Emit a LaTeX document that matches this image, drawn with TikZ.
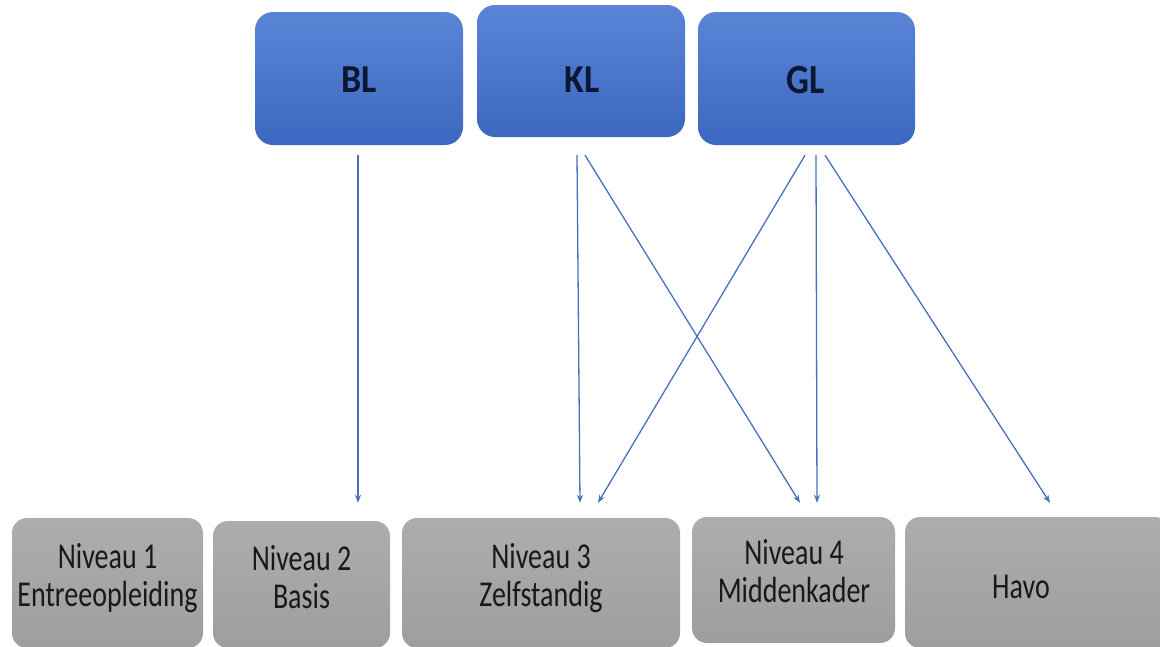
\documentclass[tikz,border=0pt]{standalone}
\usepackage{fontspec}
\setmainfont{Carlito}
\usepackage{graphicx}
\usetikzlibrary{arrows.meta}
\definecolor{bluetop}{HTML}{5A84D6}
\definecolor{bluebot}{HTML}{3C68C1}
\definecolor{greytop}{HTML}{ADADAD}
\definecolor{greybot}{HTML}{9E9E9E}
\definecolor{arrowblue}{HTML}{4A70BD}
\definecolor{navytext}{HTML}{0C1733}
\tikzset{
  topbox/.style={rectangle, rounded corners=18pt, top color=bluetop, bottom color=bluebot, draw=none, inner sep=0pt},
  botbox/.style={rectangle, rounded corners=15pt, top color=greytop, bottom color=greybot, draw=none, inner sep=0pt},
  toptext/.style={font=\fontsize{36}{40}\selectfont\bfseries, text=navytext, inner sep=0pt},
  bottext/.style={font=\fontsize{28}{29}\selectfont, text=black!90, inner sep=0pt, align=center},
  conn/.style={draw=arrowblue, line width=1.3pt, -{Stealth[length=8pt,width=6pt]}}
}
\begin{document}
\begin{tikzpicture}[x=1pt,y=-1pt]
\useasboundingbox (0,0) rectangle (1160,646);
\clip (0,0) rectangle (1160,646);
% top boxes
\node[topbox, minimum width=208pt, minimum height=133pt] (bl) at (359,78.5) {};
\node[topbox, minimum width=208pt, minimum height=132pt] (kl) at (581,71) {};
\node[topbox, minimum width=217pt, minimum height=133pt] (gl) at (806.5,78.5) {};
\node[toptext] (blt) at (359,80) {\scalebox{1}[1.1]{BL}};
\node[toptext] (klt) at (582,80) {\scalebox{1}[1.1]{KL}};
\node[toptext] (glt) at (806,80) {\scalebox{1}[1.15]{GL}};
% bottom boxes
\node[botbox, minimum width=191pt, minimum height=130pt] (n1) at (107.5,583) {};
\node[botbox, minimum width=177pt, minimum height=127pt] (n2) at (301.5,584.5) {};
\node[botbox, minimum width=278pt, minimum height=130pt] (n3) at (541,583) {};
\node[botbox, minimum width=203pt, minimum height=126pt] (n4) at (793.5,580) {};
\node[botbox, minimum width=265pt, minimum height=131pt] (havo) at (1037.5,582.5) {};
\node[bottext] (n1t) at (107.5,580) {\scalebox{1}[1.3]{\begin{tabular}{@{}c@{}}Niveau 1\\Entreeopleiding\end{tabular}}};
\node[bottext] (n2t) at (301.5,582) {\scalebox{1}[1.3]{\begin{tabular}{@{}c@{}}Niveau 2\\Basis\end{tabular}}};
\node[bottext] (n3t) at (541,580) {\scalebox{1}[1.3]{\begin{tabular}{@{}c@{}}Niveau 3\\Zelfstandig\end{tabular}}};
\node[bottext] (n4t) at (794,576) {\scalebox{1}[1.3]{\begin{tabular}{@{}c@{}}Niveau 4\\Middenkader\end{tabular}}};
\node[bottext] (havot) at (1021,587) {\scalebox{1}[1.3]{Havo}};
% connectors
\draw[conn] ([xshift=-1pt,yshift=-10pt]bl.south) -- ([xshift=56.5pt,yshift=18pt]n2.north);
\draw[conn] ([xshift=-4pt,yshift=-18pt]kl.south) -- ([xshift=39pt,yshift=15pt]n3.north);
\draw[conn] ([xshift=4pt,yshift=-18pt]kl.south) -- ([xshift=6.5pt,yshift=14pt]n4.north);
\draw[conn] ([xshift=-1.5pt,yshift=-10pt]gl.south) -- ([xshift=57pt,yshift=15pt]n3.north);
\draw[conn] ([xshift=9.5pt,yshift=-10pt]gl.south) -- ([xshift=23.5pt,yshift=14pt]n4.north);
\draw[conn] ([xshift=18.5pt,yshift=-10pt]gl.south) -- ([xshift=12.5pt,yshift=14pt]havo.north);
\end{tikzpicture}
\end{document}
